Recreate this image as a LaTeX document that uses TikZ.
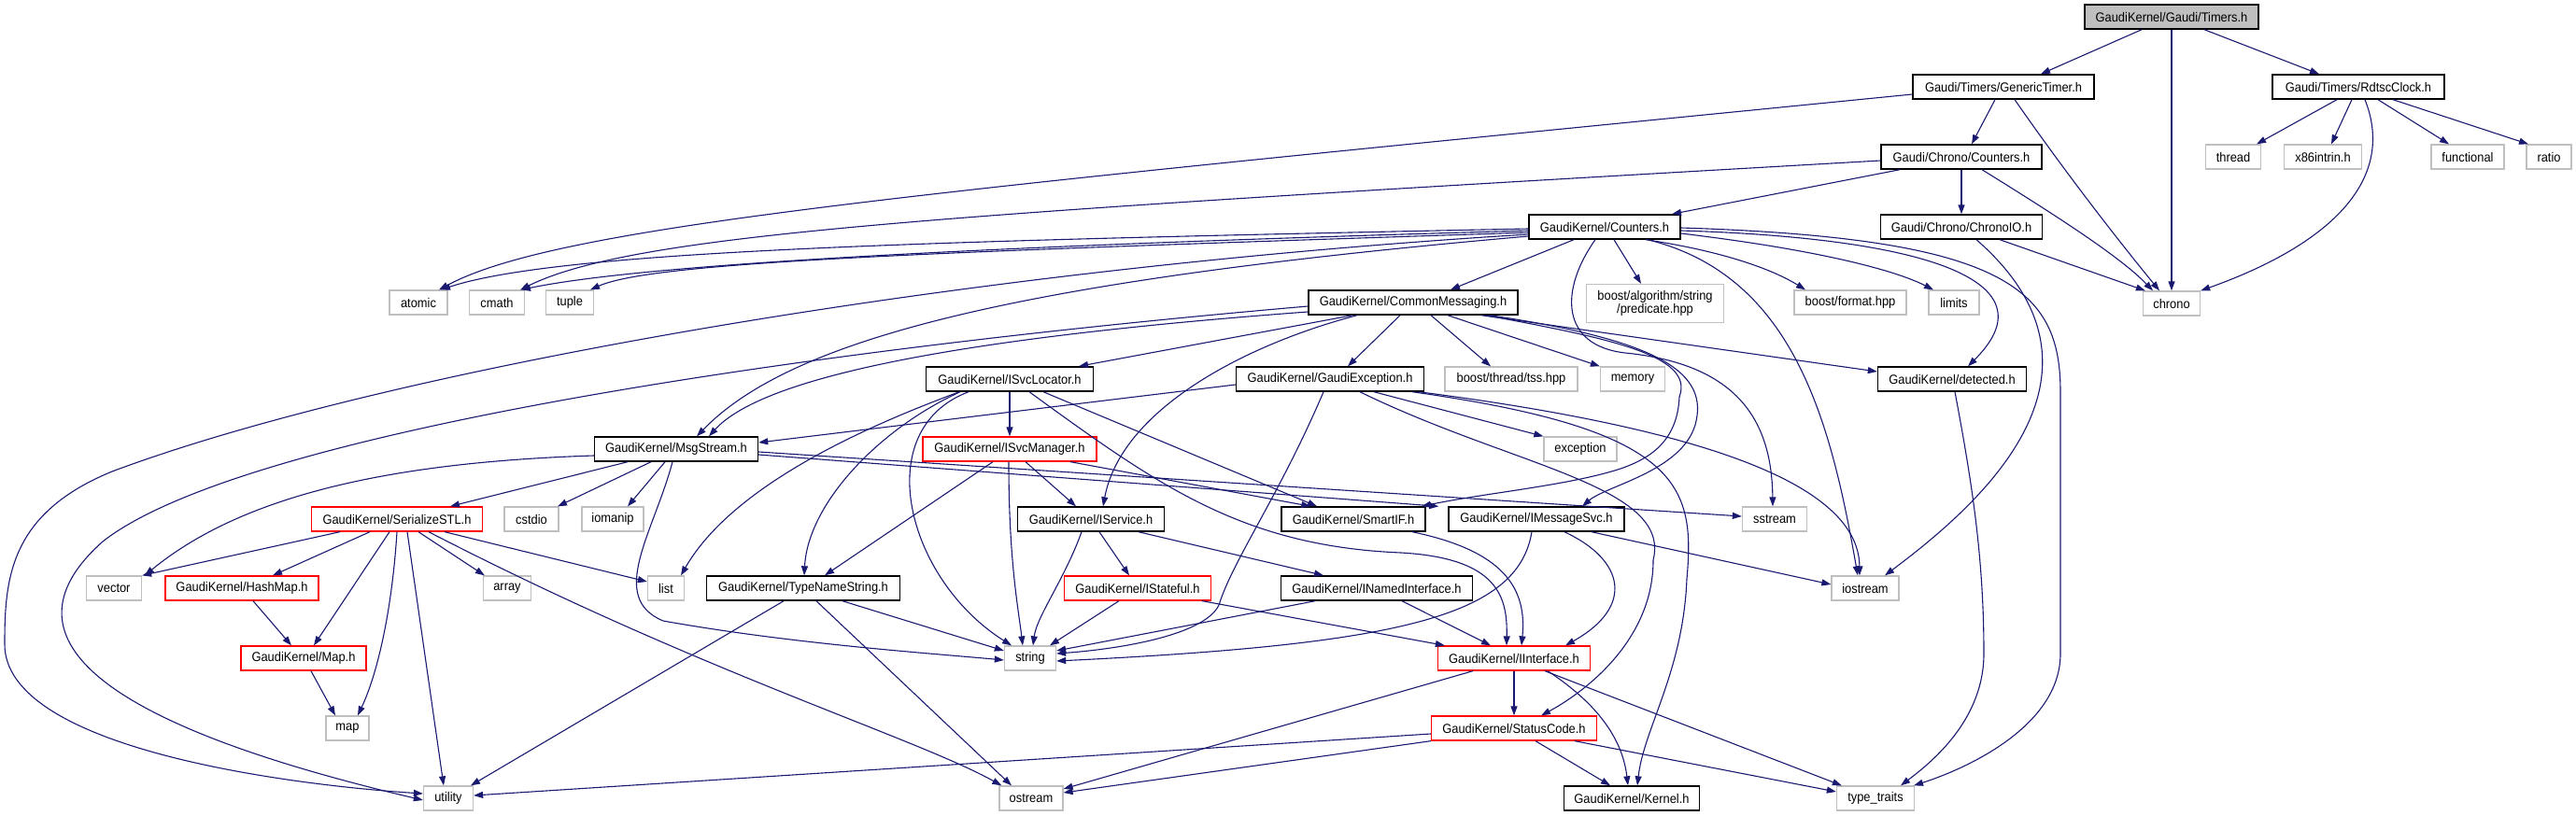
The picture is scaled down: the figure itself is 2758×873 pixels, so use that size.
\documentclass[tikz,border=0pt]{standalone}
\usepackage{fontspec}
\setmainfont{Liberation Sans}[FakeStretch=0.92]
\usetikzlibrary{arrows.meta}
\definecolor{edgeblue}{HTML}{191970}
\definecolor{extgray}{HTML}{BFBFBF}
\begin{document}
\begin{tikzpicture}[x=1pt,y=-1pt,
  box/.style={rectangle, inner sep=0pt, minimum height=26pt, fill=white, font=\fontsize{14}{14.5}\selectfont, text=black},
  blk/.style={box, draw=black, line width=1.4pt},
  redbox/.style={box, draw=red, line width=1.3pt},
  ext/.style={box, draw=extgray, line width=1.3pt},
  root/.style={box, draw=black, fill=extgray, line width=1.4pt},
  dep/.style={draw=edgeblue, line width=1.1pt, -{Triangle[length=10pt,width=7pt]}},
]
\useasboundingbox (0,0) rectangle (2758,873);
% ---------------- nodes ----------------
\node[root, minimum width=186] (timers) at (2325,18) {GaudiKernel/Gaudi/Timers.h};
\node[blk, minimum width=194] (gtimer) at (2145,93) {Gaudi/Timers/GenericTimer.h};
\node[blk, minimum width=184] (rdtsc) at (2525,93) {Gaudi/Timers/RdtscClock.h};
\node[ext, minimum width=59] (thread) at (2391,168) {thread};
\node[ext, minimum width=83] (x86) at (2487,168) {x86intrin.h};
\node[ext, minimum width=78] (functional) at (2642,168) {functional};
\node[ext, minimum width=48] (ratio) at (2729,168) {ratio};
\node[blk, minimum width=172] (ccounters) at (2100,168) {Gaudi/Chrono/Counters.h};
\node[blk, minimum width=173] (chronoio) at (2100,243) {Gaudi/Chrono/ChronoIO.h};
\node[ext, minimum width=61] (chrono) at (2325,325) {chrono};
\node[blk, minimum width=162] (counters) at (1718,243) {GaudiKernel/Counters.h};
\node[ext, minimum width=147, minimum height=41, align=center] (predicate) at (1772,325) {boost/algorithm/string\\/predicate.hpp};
\node[ext, minimum width=120] (format) at (1981,324) {boost/format.hpp};
\node[ext, minimum width=54] (limits) at (2092,324) {limits};
\node[ext, minimum width=62] (atomic) at (448,324) {atomic};
\node[ext, minimum width=59] (cmath) at (532,324) {cmath};
\node[ext, minimum width=51] (tuple) at (610,324) {tuple};
\node[blk, minimum width=224] (commsg) at (1513,324) {GaudiKernel/CommonMessaging.h};
\node[blk, minimum width=201] (gexc) at (1424,406) {GaudiKernel/GaudiException.h};
\node[ext, minimum width=142] (tss) at (1618,406) {boost/thread/tss.hpp};
\node[ext, minimum width=69] (memory) at (1748,406) {memory};
\node[blk, minimum width=159] (detected) at (2090,406) {GaudiKernel/detected.h};
\node[blk, minimum width=179] (svcloc) at (1081,406) {GaudiKernel/ISvcLocator.h};
\node[ext, minimum width=78] (exception) at (1692,481) {exception};
\node[redbox, minimum width=186] (svcmgr) at (1081,481) {GaudiKernel/ISvcManager.h};
\node[blk, minimum width=175] (msgstream) at (724,481) {GaudiKernel/MsgStream.h};
\node[redbox, minimum width=183] (serial) at (425,556) {GaudiKernel/SerializeSTL.h};
\node[ext, minimum width=58] (cstdio) at (569,556) {cstdio};
\node[ext, minimum width=66] (iomanip) at (656,556) {iomanip};
\node[blk, minimum width=157] (iservice) at (1168,556) {GaudiKernel/IService.h};
\node[blk, minimum width=154] (smartif) at (1449,556) {GaudiKernel/SmartIF.h};
\node[blk, minimum width=188] (imsgsvc) at (1645,556) {GaudiKernel/IMessageSvc.h};
\node[ext, minimum width=69] (sstream) at (1900,556) {sstream};
\node[ext, minimum width=59] (vector) at (122,630) {vector};
\node[redbox, minimum width=164] (hashmap) at (259,630) {GaudiKernel/HashMap.h};
\node[ext, minimum width=51] (array) at (543,630) {array};
\node[ext, minimum width=39] (list) at (713,630) {list};
\node[blk, minimum width=207] (typename) at (860,630) {GaudiKernel/TypeNameString.h};
\node[redbox, minimum width=157] (istateful) at (1218,630) {GaudiKernel/IStateful.h};
\node[blk, minimum width=205] (inamed) at (1474,630) {GaudiKernel/INamedInterface.h};
\node[ext, minimum width=72] (iostream) at (1997,630) {iostream};
\node[redbox, minimum width=134] (maph) at (325,705) {GaudiKernel/Map.h};
\node[ext, minimum width=55] (string) at (1103,705) {string};
\node[redbox, minimum width=163] (iinterface) at (1621,705) {GaudiKernel/IInterface.h};
\node[ext, minimum width=46] (mapn) at (372,780) {map};
\node[redbox, minimum width=177] (statuscode) at (1621,780) {GaudiKernel/StatusCode.h};
\node[ext, minimum width=53] (utility) at (480,855) {utility};
\node[ext, minimum width=68] (ostream) at (1104,855) {ostream};
\node[blk, minimum width=145] (kernel) at (1747,855) {GaudiKernel/Kernel.h};
\node[ext, minimum width=83] (typetraits) at (2008,855) {type\_traits};
% ---------------- edges ----------------
\draw[dep] ([xshift=-32]timers.south) -- ([xshift=40]gtimer.north);
\draw[dep] (timers.south) -- (chrono.north);
\draw[dep] ([xshift=35]timers.south) -- ([xshift=-42]rdtsc.north);
\draw[dep] ([shift={(0,8)}]gtimer.west) .. controls (1000,205) and (600,240) .. ([xshift=22]atomic.north);
\draw[dep] ([xshift=-9]gtimer.south) -- ([xshift=11]ccounters.north);
\draw[dep] ([xshift=12]gtimer.south) .. controls (2215,190) and (2270,260) .. ([xshift=-13]chrono.north);
\draw[dep] ([xshift=-23]rdtsc.south) -- ([xshift=25]thread.north);
\draw[dep] ([xshift=-7]rdtsc.south) -- ([xshift=9]x86.north);
\draw[dep] ([xshift=7]rdtsc.south) .. controls (2565,190) and (2500,260) .. (chrono.north east);
\draw[dep] ([xshift=21]rdtsc.south) -- ([xshift=-20]functional.north);
\draw[dep] ([xshift=37]rdtsc.south) -- ([xshift=-22]ratio.north);
\draw[dep] ([shift={(0,4)}]ccounters.west) .. controls (1000,230) and (680,250) .. ([xshift=25]cmath.north);
\draw[dep] ([xshift=-66]ccounters.south) -- ([xshift=72]counters.north);
\draw[dep] (ccounters.south) -- (chronoio.north);
\draw[dep] ([xshift=22]ccounters.south) .. controls (2200,230) and (2270,275) .. ([xshift=-20]chrono.north);
\draw[dep] ([xshift=41]chronoio.south) -- ([xshift=3]chrono.north west);
\draw[dep] ([xshift=16]chronoio.south) .. controls (2280,400) and (2120,540) .. ([xshift=21]iostream.north);
\draw[dep] ([shift={(0,2)}]counters.west) .. controls (1000,258) and (600,268) .. ([xshift=24]atomic.north);
\draw[dep] ([shift={(0,4)}]counters.west) .. controls (1000,265) and (680,285) .. ([xshift=26]cmath.north);
\draw[dep] ([shift={(0,6)}]counters.west) .. controls (1000,270) and (700,280) .. ([xshift=22]tuple.north);
\draw[dep] ([shift={(0,8)}]counters.west) .. controls (1000,290) and (400,400) .. (120,505) .. controls (10,550) and (5,620) .. (5,690) .. controls (5,800) and (300,840) .. ([shift={(0,-5)}]utility.west);
\draw[dep] ([shift={(0,10)}]counters.west) .. controls (1100,300) and (850,360) .. ([xshift=22]msgstream.north);
\draw[dep] ([xshift=-33]counters.south) -- ([xshift=40]commsg.north);
\draw[dep] ([xshift=10]counters.south) -- ([xshift=-15]predicate.north);
\draw[dep] ([xshift=44]counters.south) .. controls (1850,270) and (1900,290) .. ([xshift=-48]format.north);
\draw[dep] ([shift={(0,7)}]counters.east) .. controls (1950,268) and (2030,290) .. ([xshift=-22]limits.north);
\draw[dep] ([shift={(0,4)}]counters.east) .. controls (2060,255) and (2200,300) .. ([xshift=17]detected.north);
\draw[dep] ([xshift=-10]counters.south) .. controls (1670,310) and (1670,370) .. (1740,378) .. controls (1860,390) and (1897,450) .. ([xshift=-2]sstream.north);
\draw[dep] ([xshift=46]counters.south) .. controls (1920,295) and (1960,450) .. ([xshift=-8]iostream.north);
\draw[dep] ([shift={(0,1)}]counters.east) .. controls (2150,255) and (2206,310) .. (2206,420) -- (2206,700) .. controls (2206,780) and (2100,825) .. ([xshift=41]typetraits.north);
\draw[dep] ([shift={(0,4)}]commsg.west) .. controls (800,380) and (250,470) .. (110,580) .. controls (20,660) and (40,760) .. ([shift={(0,2)}]utility.west);
\draw[dep] ([shift={(0,10)}]commsg.west) .. controls (1050,360) and (820,400) .. ([xshift=35]msgstream.north);
\draw[dep] ([xshift=-65]commsg.south) -- ([xshift=74]svcloc.north);
\draw[dep] ([xshift=-60]commsg.south) .. controls (1330,370) and (1200,440) .. ([xshift=13]iservice.north);
\draw[dep] ([xshift=-14]commsg.south) -- ([xshift=19]gexc.north);
\draw[dep] ([xshift=19]commsg.south) -- ([xshift=-22]tss.north);
\draw[dep] ([xshift=37]commsg.south) -- (memory.north west);
\draw[dep] ([xshift=73]commsg.south) -- ([shift={(0,-8)}]detected.west);
\draw[dep] ([xshift=78]commsg.south) .. controls (1720,362) and (1815,380) .. (1798,425) .. controls (1796,470) and (1770,490) .. (1735,502) .. controls (1680,520) and (1590,528) .. ([xshift=73]smartif.north);
\draw[dep] ([xshift=82]commsg.south) .. controls (1780,365) and (1830,400) .. (1815,455) .. controls (1800,505) and (1720,520) .. ([xshift=49]imsgsvc.north);
\draw[dep] ([shift={(0,6)}]gexc.west) -- ([shift={(0,-7)}]msgstream.east);
\draw[dep] ([xshift=-7]gexc.south) .. controls (1370,530) and (1320,600) .. (1305,648) .. controls (1290,680) and (1200,695) .. ([shift={(0,-5)}]string.east);
\draw[dep] ([xshift=47]gexc.south) -- (exception.north west);
\draw[dep] ([xshift=32]gexc.south) .. controls (1620,500) and (1790,520) .. (1770,600) .. controls (1770,690) and (1690,745) .. ([xshift=29]statuscode.north);
\draw[dep] ([xshift=95]gexc.south) .. controls (1830,460) and (1990,520) .. ([xshift=-6]iostream.north);
\draw[dep] ([xshift=88]gexc.south) .. controls (1800,460) and (1815,520) .. (1806,620) .. controls (1802,720) and (1760,780) .. ([xshift=6]kernel.north);
\draw[dep] (svcloc.south) -- (svcmgr.north);
\draw[dep] ([xshift=-54]svcloc.south) .. controls (960,445) and (790,510) .. ([xshift=16]list.north);
\draw[dep] ([xshift=-44]svcloc.south) .. controls (930,460) and (970,620) .. ([xshift=-20]string.north);
\draw[dep] ([xshift=-53]svcloc.south) .. controls (940,460) and (865,540) .. ([xshift=1]typename.north);
\draw[dep] ([xshift=36]svcloc.south) -- ([xshift=-39]smartif.north);
\draw[dep] ([xshift=21]svcloc.south) .. controls (1240,520) and (1330,585) .. (1500,592) .. controls (1605,598) and (1614,640) .. ([xshift=-8]iinterface.north);
\draw[dep] ([xshift=17]svcmgr.south) -- ([xshift=-16]iservice.north);
\draw[dep] ([xshift=65]svcmgr.south) -- ([xshift=32]smartif.north west);
\draw[dep] ([xshift=-1]svcmgr.south) .. controls (1080,600) and (1090,650) .. ([xshift=-8]string.north);
\draw[dep] ([xshift=-18]svcmgr.south) -- ([xshift=23]typename.north);
\draw[dep] ([xshift=-52]msgstream.south) -- ([xshift=57]serial.north);
\draw[dep] ([xshift=-27]msgstream.south) -- ([xshift=28]cstdio.north);
\draw[dep] ([xshift=-12]msgstream.south) -- ([xshift=16]iomanip.north);
\draw[dep] ([shift={(0,7)}]msgstream.west) .. controls (420,495) and (260,530) .. ([xshift=33]vector.north);
\draw[dep] ([xshift=-4]msgstream.south) .. controls (700,570) and (650,640) .. (710,665) .. controls (850,690) and (1000,700) .. ([shift={(0,2)}]string.west);
\draw[dep] ([shift={(0,3)}]msgstream.east) -- ([shift={(0,-3)}]sstream.west);
\draw[dep] ([shift={(0,6)}]msgstream.east) -- ([xshift=-10]imsgsvc.north west);
\draw[dep] ([xshift=-61]serial.south) -- (vector.north east);
\draw[dep] ([xshift=-29]serial.south) -- ([xshift=33]hashmap.north);
\draw[dep] ([xshift=-8]serial.south) -- ([xshift=11]maph.north);
\draw[dep] (serial.south) .. controls (420,650) and (405,720) .. ([xshift=11]mapn.north);
\draw[dep] ([xshift=11]serial.south) -- ([xshift=-5]utility.north);
\draw[dep] ([xshift=23]serial.south) -- ([xshift=2]array.north west);
\draw[dep] ([xshift=51]serial.south) -- ([shift={(0,-7)}]list.west);
\draw[dep] ([xshift=34]serial.south) .. controls (750,720) and (980,790) .. ([xshift=3]ostream.north west);
\draw[dep] ([xshift=12]hashmap.south) -- ([xshift=-13]maph.north);
\draw[dep] ([xshift=8]maph.south) -- ([xshift=-13]mapn.north);
\draw[dep] ([xshift=-21]typename.south) -- ([xshift=24]utility.north);
\draw[dep] ([xshift=42]typename.south) -- ([shift={(0,-8)}]string.west);
\draw[dep] ([xshift=14]typename.south) -- ([xshift=-21]ostream.north);
\draw[dep] ([xshift=-10]iservice.south) .. controls (1140,620) and (1110,660) .. ([xshift=3]string.north);
\draw[dep] ([xshift=9]iservice.south) -- ([xshift=-9]istateful.north);
\draw[dep] ([xshift=51]iservice.south) -- ([xshift=-57]inamed.north);
\draw[dep] ([xshift=-20]istateful.south) -- ([xshift=21]string.north);
\draw[dep] ([xshift=69]istateful.south) -- ([xshift=8]iinterface.north west);
\draw[dep] ([xshift=-66]inamed.south) -- ([shift={(0,-8)}]string.east);
\draw[dep] ([xshift=27]inamed.south) -- ([xshift=-25]iinterface.north);
\draw[dep] ([xshift=63]smartif.south) .. controls (1610,590) and (1635,630) .. ([xshift=8]iinterface.north);
\draw[dep] ([xshift=-5]imsgsvc.south) .. controls (1625,660) and (1500,690) .. ([shift={(0,3)}]string.east);
\draw[dep] ([xshift=30]imsgsvc.south) .. controls (1740,600) and (1750,650) .. ([xshift=55]iinterface.north);
\draw[dep] ([xshift=59]imsgsvc.south) -- ([shift={(0,-4)}]iostream.west);
\draw[dep] (iinterface.south) -- (statuscode.north);
\draw[dep] ([xshift=36]iinterface.south) .. controls (1720,760) and (1738,800) .. ([xshift=-4]kernel.north);
\draw[dep] ([xshift=-44]iinterface.south) -- ([shift={(0,-10)}]ostream.east);
\draw[dep] ([xshift=33]iinterface.south) -- ([xshift=6]typetraits.north west);
\draw[dep] ([shift={(0,6)}]statuscode.west) -- ([shift={(0,-3)}]utility.east);
\draw[dep] (statuscode.south west) -- ([shift={(0,-6)}]ostream.east);
\draw[dep] ([xshift=23]statuscode.south) -- ([xshift=-23]kernel.north);
\draw[dep] ([xshift=65]statuscode.south) -- ([shift={(0,-7)}]typetraits.west);
\draw[dep] ([xshift=3]detected.south) .. controls (2112,520) and (2124,600) .. (2124,700) .. controls (2124,770) and (2070,815) .. ([xshift=27]typetraits.north);
\end{tikzpicture}
\end{document}
